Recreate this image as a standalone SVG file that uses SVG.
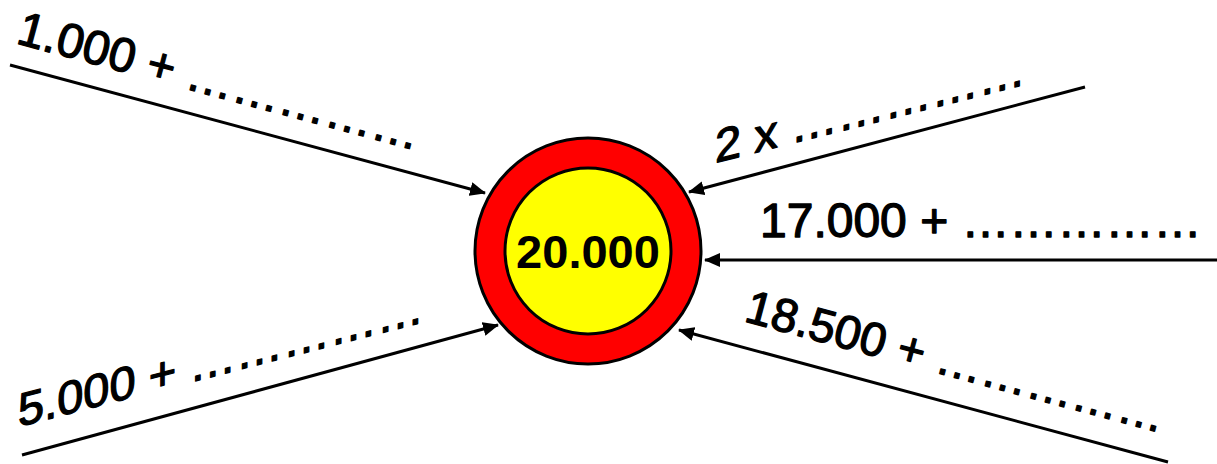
<svg xmlns="http://www.w3.org/2000/svg" width="1217" height="464" viewBox="0 0 1217 464">
<style>
.lbl{font-family:"Liberation Sans",Arial,sans-serif;font-size:47px;fill:#000;stroke:#000;stroke-width:1.3px;stroke-linejoin:round}
.conn{stroke:#000;stroke-width:3;fill:none;marker-end:url(#ah)}
.ctr{font-family:"Liberation Sans",Arial,sans-serif;font-size:47px;font-weight:bold;fill:#000;text-anchor:middle}
</style>
<defs>
<marker id="ah" markerUnits="userSpaceOnUse" markerWidth="17" markerHeight="15" refX="15" refY="7" orient="auto">
<path d="M0,0 L16,7 L0,14 z" fill="#000"/>
</marker>
</defs>
<rect width="1217" height="464" fill="#fff"/>
<g id="connectors">
<line class="conn" x1="10" y1="65" x2="485" y2="193"/>
<line class="conn" x1="22" y1="455" x2="498" y2="325"/>
<line class="conn" x1="1085" y1="87" x2="689" y2="192"/>
<line class="conn" x1="1217" y1="260" x2="705" y2="260"/>
<line class="conn" x1="1168" y1="462" x2="679" y2="330"/>
</g>
<g id="center">
<circle cx="588" cy="251" r="113" fill="#FF0000" stroke="#000" stroke-width="3"/>
<circle cx="588" cy="251" r="83" fill="#FFFF00" stroke="#000" stroke-width="3"/>
<text class="ctr" x="588" y="268">20.000</text>
</g>
<g id="label-1000">
<text class="lbl" style="font-size:48px" transform="translate(15,43) rotate(15)">1.000 + ……………</text>
</g>
<g id="label-5000">
<text class="lbl" transform="translate(18,427) skewY(-14.5)">5.000 + ……………</text>
</g>
<g id="label-2x">
<text class="lbl" transform="translate(715,163) skewY(-14.2)">2 x ……………</text>
</g>
<g id="label-17000">
<text class="lbl" style="font-size:48px" x="760" y="237">17.000 + ……………</text>
</g>
<g id="label-18500">
<text class="lbl" transform="translate(743,321) rotate(15)">18.500 + ……………</text>
</g>
</svg>
